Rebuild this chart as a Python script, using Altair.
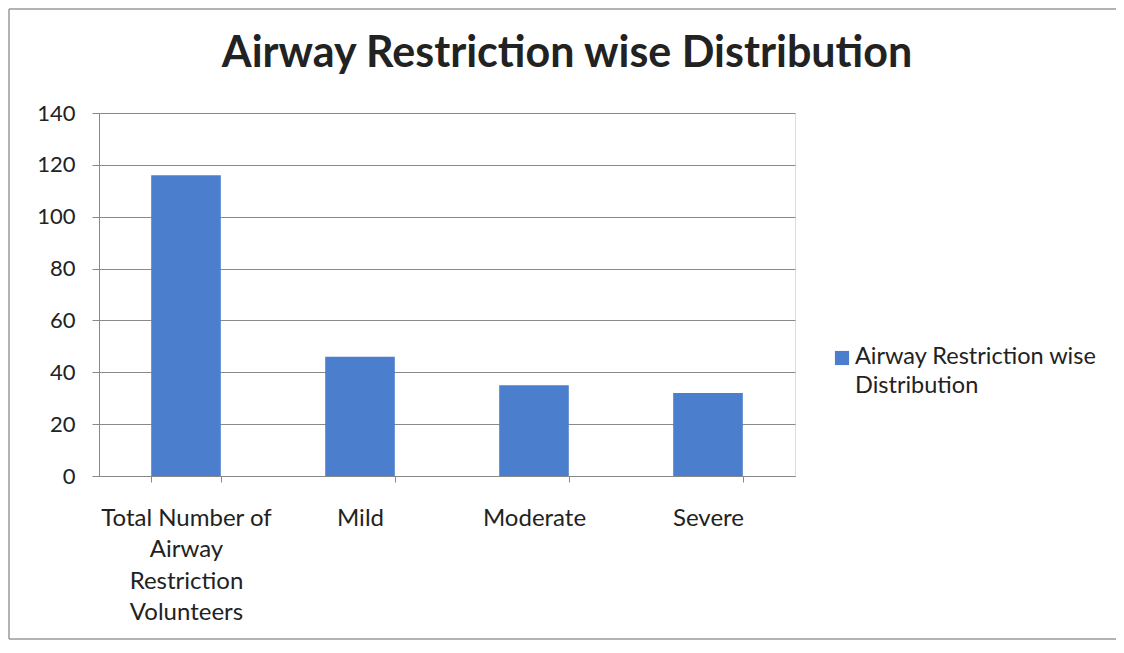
import altair as alt
import pandas as pd

categories = ["Total Number of Airway Restriction Volunteers", "Mild", "Moderate", "Severe"]
values = [116, 46, 35, 32]
series_name = "Airway Restriction wise Distribution"
series_lines = ["Airway Restriction wise", "Distribution"]
chart_title = "Airway Restriction wise Distribution"
y_ticks = [0, 20, 40, 60, 80, 100, 120, 140]

df = pd.DataFrame({"category": categories, "value": values, "series": [series_name] * len(categories)})
one = df.head(1)

FONT = "Lato"
BAR = "#4B7ECC"
FRAME = "#9a9a9a"
W, H = 696, 363
PAD = {"left": 91, "top": 105, "right": 321, "bottom": 166}

label_expr = ("datum.value == 'Total Number of Airway Restriction Volunteers' ? "
              "['Total Number of', 'Airway', 'Restriction', 'Volunteers'] : datum.value")

bars = alt.Chart(df).mark_bar(color=BAR).encode(
    x=alt.X("category:N", sort=categories, title=None,
            scale=alt.Scale(paddingInner=0.6, paddingOuter=0.3),
            axis=alt.Axis(labelAngle=0, labelExpr=label_expr, labelFont=FONT, labelFontSize=24,
                          labelColor="#222", labelLineHeight=31.5, labelPadding=24,
                          tickBand="extent", tickSize=6, tickColor="#888", domainColor="#888",
                          labelBaseline="top", labelAlign="center")),
    y=alt.Y("value:Q", title=None,
            scale=alt.Scale(domain=[0, 140], nice=False),
            axis=alt.Axis(values=y_ticks, grid=True, gridColor="#8a8a8a", gridWidth=1,
                          tickSize=7, tickColor="#888", domainColor="#888",
                          labelFont=FONT, labelFontSize=22, labelColor="#222", labelPadding=17)),
)

legend_symbol = alt.Chart(one).mark_square(size=200, color=BAR, opacity=1).encode(
    x=alt.value(743), y=alt.value(245)
)
legend_label = alt.Chart(one).mark_text(
    font=FONT, fontSize=23.5, color="#222", align="left", baseline="alphabetic", lineHeight=29
).encode(x=alt.value(756), y=alt.value(251), text=alt.value(series_lines))

title_text = alt.Chart(one).mark_text(
    font=FONT, fontSize=43, fontWeight="bold", color="#222", align="center", baseline="alphabetic"
).encode(x=alt.value(W / 2 + 120), y=alt.value(-46), text=alt.value(chart_title))

frame_left = alt.Chart(one).mark_rule(color=FRAME, strokeWidth=1.5).encode(
    x=alt.value(-90), y=alt.value(-104), y2=alt.value(H + 163)
)
frame_top = alt.Chart(one).mark_rule(color=FRAME, strokeWidth=1.5).encode(
    x=alt.value(-90), x2=alt.value(W + 321), y=alt.value(-104)
)
frame_bottom = alt.Chart(one).mark_rule(color=FRAME, strokeWidth=1.5).encode(
    x=alt.value(-90), x2=alt.value(W + 321), y=alt.value(H + 163)
)

chart = alt.layer(frame_left, frame_top, frame_bottom, bars, legend_symbol, legend_label, title_text).properties(
    width=W, height=H,
    padding=PAD,
    autosize=alt.AutoSizeParams(type="none"),
).configure_view(stroke=None).configure(background="white")

chart.save("out.html", embed_options={"renderer": "svg", "actions": False})
